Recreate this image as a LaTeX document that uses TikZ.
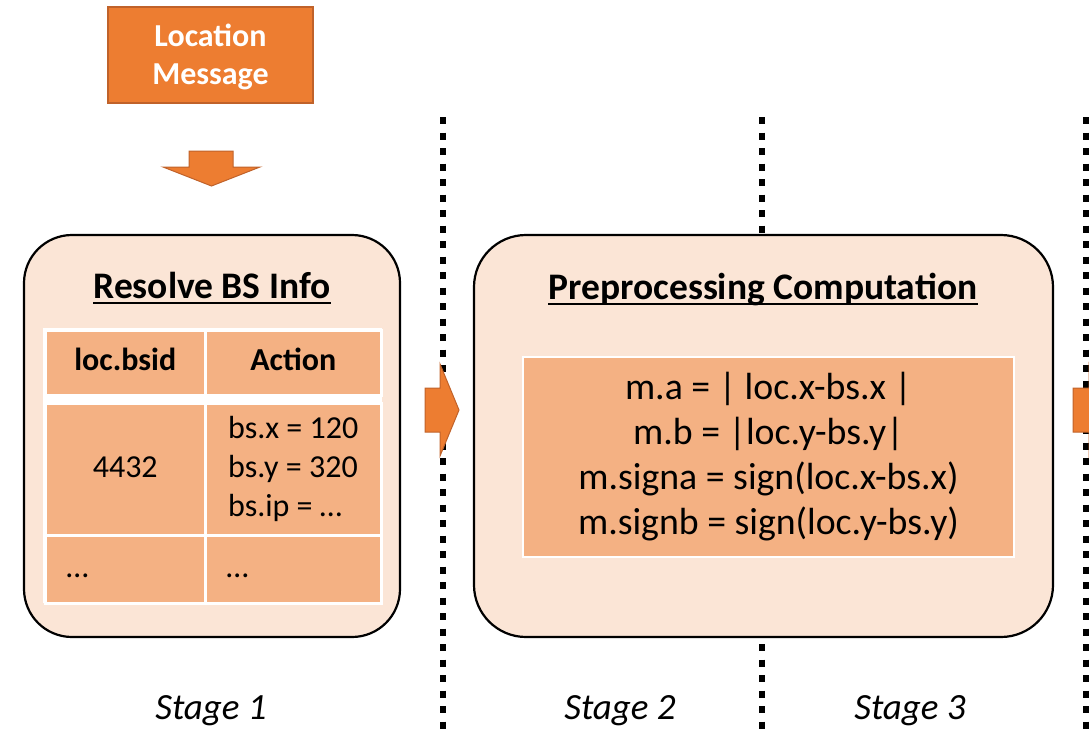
\documentclass[tikz,border=0pt]{standalone}
\usepackage{fontspec}
\setmainfont{Carlito}
\usetikzlibrary{positioning}
\definecolor{accent}{HTML}{ED7D31}
\definecolor{accentdark}{HTML}{C0622A}
\definecolor{peach}{HTML}{FBE5D6}
\definecolor{salmon}{HTML}{F4B183}

\begin{document}
\begin{tikzpicture}[
  x=1pt, y=-1pt,
  msg/.style={draw=accentdark, fill=accent, line width=1.5pt, minimum width=205pt,
              minimum height=96pt, text=white, align=center,
              font=\fontsize{32}{38}\selectfont\bfseries},
  stagebox/.style={draw=black, fill=peach, line width=2.2pt, rounded corners=48pt,
                   minimum height=402pt},
  title/.style={inner xsep=0pt, anchor=base, font=\fontsize{37.5}{45}\selectfont\bfseries},
  uline/.style={line width=2pt},
  cell/.style={draw=white, fill=salmon, line width=2.5pt, anchor=north west,
               inner xsep=21pt, text height=22pt, text depth=6pt,
               font=\fontsize{32}{39}\selectfont},
  formula/.style={draw=white, fill=salmon, line width=1.5pt, minimum width=491pt,
                  minimum height=200pt, align=center,
                  font=\fontsize{37.8}{45}\selectfont},
  blockarrow/.style={fill=accent, draw=accentdark, line width=1pt},
  divider/.style={line width=6.5pt, dash pattern=on 7pt off 8.5pt},
  stagelbl/.style={anchor=base, font=\fontsize{37}{45}\selectfont\itshape},
]

\useasboundingbox (0,0) rectangle (1089,736);
\clip (0,0) rectangle (1089,736);

% --- Stage dividers ---
\coordinate (d1t) at (443,117);  \coordinate (d1b) at (443,736);
\coordinate (d2t) at (762,117);  \coordinate (d2b) at (762,736);
\coordinate (d3t) at (1086,117); \coordinate (d3b) at (1086,736);
\draw[divider] (d1t) -- (d1b);
\draw[divider] (d2t) -- (d2b);
\draw[divider] (d3t) -- (d3b);

% --- Input message ---
\node[msg] (locmsg) at (210.5,55) {\rule{0pt}{26pt}Location\\Message};

% --- Stage 1: resolve base station ---
\node[stagebox, minimum width=376pt] (stageone) at (212,436) {};
\node[title] (titleone) at (212,298) {Resolve BS Info};
\draw[uline] ([yshift=-5pt]titleone.base west) -- ([yshift=-5pt]titleone.base east);

\fill[white] (43,328) rectangle (381.5,603);
\node[cell, minimum width=160pt, minimum height=65pt, align=center] (c11) at (44,329) {\bfseries loc.bsid};
\node[cell, minimum width=176pt, minimum height=65pt, align=center] (c12) at (204,329) {\bfseries Action};
\node[cell, minimum width=160pt, minimum height=132pt, align=center] (c21) at (44,402) {4432};
\node[cell, minimum width=176pt, minimum height=132pt, align=left,
      text height=, text depth=] (c22) at (204,402) {bs.x = 120\\bs.y = 320\\bs.ip = …};
\node[cell, minimum width=160pt, minimum height=68pt, text width=118pt, align=left] (c31) at (44,534) {…};
\node[cell, minimum width=176pt, minimum height=68pt, text width=134pt, align=left] (c32) at (204,534) {…};

% --- Stage 2: preprocessing ---
\node[stagebox, minimum width=579pt, rounded corners=52pt] (stagetwo) at (763.5,436) {};
\node[title] (titletwo) at (763,299) {Preprocessing Computation};
\draw[uline] ([yshift=-5pt]titletwo.base west) -- ([yshift=-5pt]titletwo.base east);

\node[formula] (calc) at (768.5,457) {m.a = | loc.x-bs.x |\\m.b = |loc.y-bs.y|\\
  m.signa = sign(loc.x-bs.x)\\m.signb = sign(loc.y-bs.y)};

% --- Block arrows ---
\filldraw[blockarrow] (189,151) -- (233,151) -- (233,167) -- (260,167) -- (211.5,186)
  -- (163,167) -- (189,167) -- cycle;
\filldraw[blockarrow] (425,388) -- (440,388) -- (440,364) -- (459,410) -- (440,456)
  -- (440,432) -- (425,432) -- cycle;
\filldraw[blockarrow] (1073,388) -- (1089,388) -- (1089,364) -- (1108,410) -- (1089,456)
  -- (1089,432) -- (1073,432) -- cycle;

% --- Stage labels ---
\node[stagelbl] (lblone) at (211,719) {Stage 1};
\node[stagelbl] (lbltwo) at (620,719) {Stage 2};
\node[stagelbl] (lblthree) at (910,719) {Stage 3};

\end{tikzpicture}
\end{document}
